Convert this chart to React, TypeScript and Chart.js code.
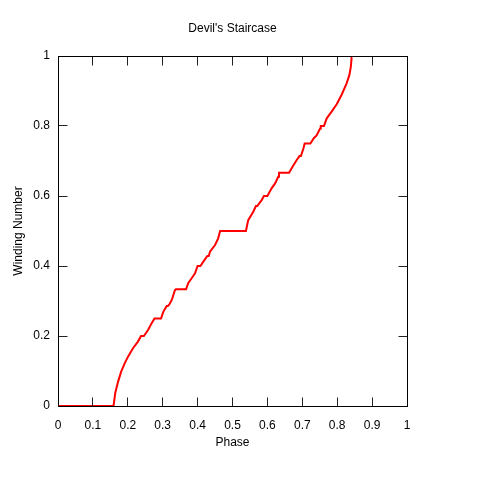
import React, { useEffect, useRef } from "react";
import { Chart, registerables } from "chart.js";

Chart.register(...registerables);

const chartTitle = "Devil's Staircase";
const xLabel = "Phase";
const yLabel = "Winding Number";

const phase = [
  0, 0.159, 0.1605, 0.164, 0.172, 0.181, 0.191, 0.2006, 0.2149, 0.229, 0.238, 0.246,
  0.258, 0.268, 0.2765, 0.2951, 0.3017, 0.3115, 0.315, 0.319, 0.326, 0.335, 0.338, 0.367,
  0.373, 0.383, 0.3926, 0.4, 0.408, 0.421, 0.428, 0.432, 0.4355, 0.45, 0.459, 0.4645,
  0.5385, 0.545, 0.5596, 0.567, 0.571, 0.584, 0.59, 0.6, 0.612, 0.622, 0.631, 0.6332,
  0.662, 0.6725, 0.684, 0.692, 0.696, 0.703, 0.7068, 0.7232, 0.733, 0.741, 0.751, 0.753,
  0.762, 0.77, 0.784, 0.7986, 0.813, 0.827, 0.835, 0.839, 0.8408, 0.841, 1,
];
const winding = [
  0, 0, 0.01, 0.037, 0.069, 0.098, 0.122, 0.141, 0.165, 0.184, 0.2, 0.2,
  0.217, 0.236, 0.25, 0.25, 0.269, 0.2857, 0.2857, 0.29, 0.303, 0.331, 0.3333, 0.3333,
  0.351, 0.365, 0.379, 0.4, 0.4, 0.419, 0.4286, 0.4286, 0.441, 0.46, 0.479, 0.5,
  0.5, 0.531, 0.555, 0.5714, 0.5714, 0.589, 0.6, 0.6, 0.622, 0.636, 0.655, 0.6667,
  0.6667, 0.684, 0.703, 0.714, 0.714, 0.735, 0.75, 0.75, 0.765, 0.773, 0.793, 0.8,
  0.8, 0.822, 0.841, 0.862, 0.89, 0.922, 0.946, 0.969, 0.99, 1, 1,
];

const xTicks = [0, 0.1, 0.2, 0.3, 0.4, 0.5, 0.6, 0.7, 0.8, 0.9, 1];
const yTicks = [0, 0.2, 0.4, 0.6, 0.8, 1];

const FONT_FAMILY = "'Liberation Sans', Arial, sans-serif";

const fmt = (v: number) => String(Number(v.toFixed(3)));

const frameTicks = {
  id: "frameTicks",
  afterDatasetsDraw(chart: any) {
    const { ctx, chartArea: a, scales } = chart;
    const left = Math.floor(a.left) + 0.5;
    const right = Math.floor(a.right) + 0.5;
    const top = Math.floor(a.top) + 0.5;
    const bottom = Math.floor(a.bottom) + 0.5;
    const L = 9;
    ctx.save();
    ctx.lineWidth = 1;
    ctx.strokeStyle = "#222";
    ctx.beginPath();
    for (const v of xTicks) {
      const px = Math.floor(scales.x.getPixelForValue(v)) + 0.5;
      ctx.moveTo(px, bottom);
      ctx.lineTo(px, bottom - L);
      ctx.moveTo(px, top);
      ctx.lineTo(px, top + L);
    }
    for (const v of yTicks) {
      const py = Math.floor(scales.y.getPixelForValue(v)) + 0.5;
      ctx.moveTo(left, py);
      ctx.lineTo(left + L, py);
      ctx.moveTo(right, py);
      ctx.lineTo(right - L, py);
    }
    ctx.stroke();
    ctx.strokeStyle = "#000";
    ctx.strokeRect(left, top, right - left, bottom - top);
    ctx.restore();
  },
};

export default function App() {
  const ref = useRef<HTMLCanvasElement | null>(null);

  useEffect(() => {
    if (!ref.current) return;
    const font = { family: FONT_FAMILY, size: 12 };
    const chart = new Chart(ref.current, {
      type: "line",
      data: {
        datasets: [
          {
            data: phase.map((x, i) => ({ x, y: winding[i] })),
            borderColor: "#ff0000",
            borderWidth: 2,
            pointRadius: 0,
            tension: 0,
            fill: false,
          },
        ],
      },
      options: {
        responsive: false,
        animation: false,
        layout: { padding: { left: 0, right: 93, top: 0, bottom: 0 } },
        plugins: {
          legend: { display: false },
          tooltip: { enabled: false },
          title: {
            display: true,
            text: chartTitle,
            color: "#000",
            font: { family: FONT_FAMILY, size: 12, weight: "normal" },
            padding: { top: 21, bottom: 20.6 },
            fullSize: false,
          },
        },
        scales: {
          x: {
            type: "linear",
            min: 0,
            max: 1,
            afterBuildTicks: (s: any) => {
              s.ticks = xTicks.map((v) => ({ value: v }));
            },
            afterFit: (s: any) => {
              s.height = 94;
            },
            grid: { display: false, drawTicks: false, tickLength: 0 },
            border: { display: false },
            ticks: {
              color: "#000",
              font,
              padding: 12,
              maxRotation: 0,
              autoSkip: false,
              callback: (v: any) => fmt(Number(v)),
            },
            title: {
              display: true,
              text: xLabel,
              color: "#000",
              font,
              padding: { top: 0, bottom: 50 },
            },
          },
          y: {
            type: "linear",
            min: 0,
            max: 1,
            afterBuildTicks: (s: any) => {
              s.ticks = yTicks.map((v) => ({ value: v }));
            },
            afterFit: (s: any) => {
              s.width = 58;
            },
            grid: { display: false, drawTicks: false, tickLength: 0 },
            border: { display: false },
            ticks: {
              color: "#000",
              font,
              padding: 8,
              autoSkip: false,
              callback: (v: any) => fmt(Number(v)),
            },
            title: {
              display: true,
              text: yLabel,
              color: "#000",
              font,
              padding: { top: 11, bottom: 0 },
            },
          },
        },
      },
      plugins: [frameTicks],
    } as any);
    return () => chart.destroy();
  }, []);

  return (
    <div style={{ position: "absolute", left: 0, top: 0, width: 500, height: 500, background: "#fff" }}>
      <canvas ref={ref} width={500} height={500} style={{ display: "block" }} />
    </div>
  );
}
